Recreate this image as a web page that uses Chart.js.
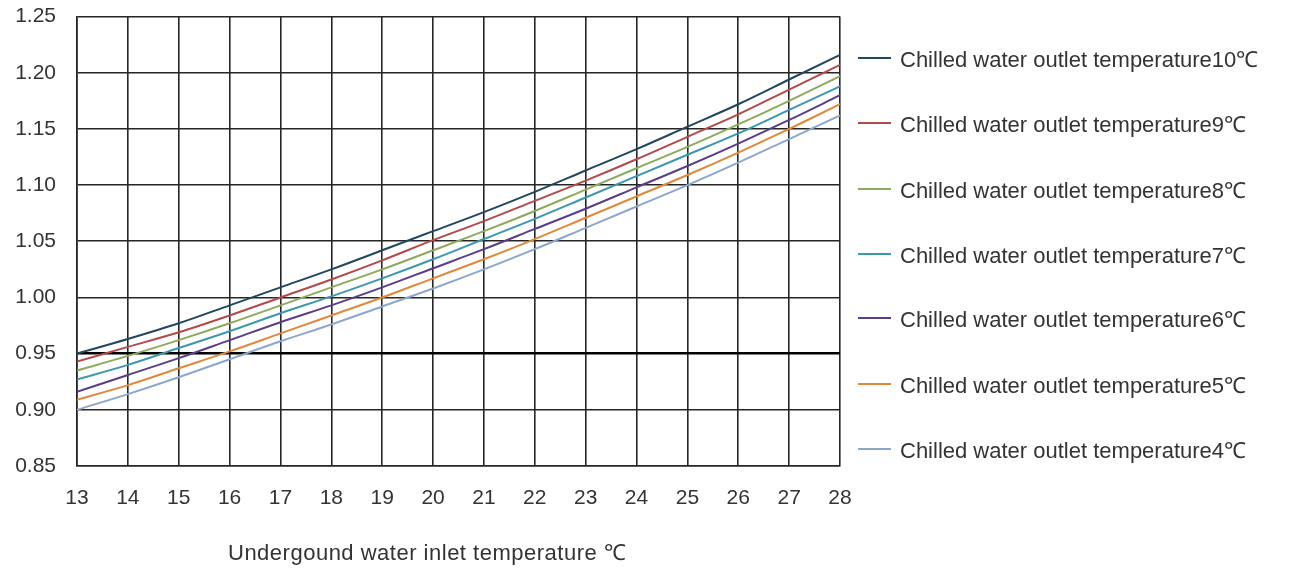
<!DOCTYPE html>
<html>
<head>
<meta charset="utf-8">
<script src="https://cdn.jsdelivr.net/npm/chart.js@4/dist/chart.umd.min.js"></script>
<style>
    body { margin: 0; background: #fff; }
    #wrap { position: relative; width: 1291px; height: 569px; overflow: hidden; }
    #chart { position: absolute; left: 0; top: -17px; }
    .legend-item { position: absolute; left: 858px; height: 26px; display: flex; align-items: center; font-family: 'Liberation Sans', Arial, sans-serif; font-size: 22px; color: #333; white-space: nowrap; }
    .legend-line { display: inline-block; width: 33px; height: 2px; margin-right: 9px; }
    #xTitle { position: absolute; left: 228px; top: 536px; font-family: 'Liberation Sans', Arial, sans-serif; font-size: 22px; letter-spacing: 0.5px; color: #333; white-space: nowrap; }
</style>
</head>
<body>
<div id="wrap">
    <canvas id="chart" width="1291" height="586"></canvas>
    <div id="legend"></div>
    <div id="xTitle">Undergound water inlet temperature ℃</div>
</div>
<script>
var inletTemps = [13, 14, 15, 16, 17, 18, 19, 20, 21, 22, 23, 24, 25, 26, 27, 28];

var outlet10 = [0.950, 0.963, 0.977, 0.993, 1.009, 1.025, 1.042, 1.059, 1.076, 1.094, 1.113, 1.132, 1.152, 1.172, 1.194, 1.216];
var outlet9 = [0.943, 0.956, 0.969, 0.984, 1.000, 1.016, 1.033, 1.051, 1.068, 1.086, 1.104, 1.123, 1.143, 1.163, 1.185, 1.207];
var outlet8 = [0.935, 0.948, 0.962, 0.977, 0.993, 1.009, 1.025, 1.042, 1.059, 1.077, 1.096, 1.115, 1.134, 1.154, 1.175, 1.197];
var outlet7 = [0.927, 0.940, 0.955, 0.970, 0.986, 1.001, 1.017, 1.034, 1.052, 1.070, 1.089, 1.108, 1.127, 1.146, 1.167, 1.188];
var outlet6 = [0.916, 0.931, 0.946, 0.962, 0.978, 0.993, 1.009, 1.026, 1.043, 1.061, 1.079, 1.098, 1.117, 1.137, 1.158, 1.180];
var outlet5 = [0.909, 0.922, 0.937, 0.952, 0.968, 0.984, 1.000, 1.017, 1.034, 1.052, 1.071, 1.090, 1.109, 1.129, 1.150, 1.172];
var outlet4 = [0.900, 0.914, 0.929, 0.945, 0.961, 0.976, 0.992, 1.008, 1.025, 1.043, 1.062, 1.081, 1.100, 1.120, 1.141, 1.162];

var seriesLabels = [
    'Chilled water outlet temperature10℃',
    'Chilled water outlet temperature9℃',
    'Chilled water outlet temperature8℃',
    'Chilled water outlet temperature7℃',
    'Chilled water outlet temperature6℃',
    'Chilled water outlet temperature5℃',
    'Chilled water outlet temperature4℃'
];
var seriesValues = [outlet10, outlet9, outlet8, outlet7, outlet6, outlet5, outlet4];
var colors = ['#22475f', '#b24a4c', '#8eaa5c', '#3c98ab', '#5a3f88', '#e0883c', '#8ea6cc'];
var legendTops = [45, 110, 176, 241, 305, 371, 436];

var yMin = 0.85, yMax = 1.25, yStep = 0.05;
var limitLine = 0.95;

function toPoints(values) {
    var pts = [];
    for (var i = 0; i < inletTemps.length; i++) {
        pts.push({ x: inletTemps[i], y: values[i] });
    }
    return pts;
}

var datasets = [];
for (var i = 0; i < seriesLabels.length; i++) {
    datasets.push({
        label: seriesLabels[i],
        data: toPoints(seriesValues[i]),
        borderColor: colors[i],
        borderWidth: 2,
        pointRadius: 0,
        fill: false,
        cubicInterpolationMode: 'monotone'
    });
}

var fontFamily = "'Liberation Sans', Arial, sans-serif";

new Chart(document.getElementById('chart').getContext('2d'), {
    type: 'line',
    data: { datasets: datasets },
    options: {
        responsive: false,
        animation: false,
        layout: {
            padding: { top: 1, right: 451, left: 0, bottom: 0 }
        },
        plugins: {
            legend: { display: false },
            tooltip: { enabled: false }
        },
        scales: {
            x: {
                type: 'linear',
                min: 13,
                max: 28,
                afterFit: function (scale) { scale.height = 103; },
                grid: {
                    color: '#262626',
                    lineWidth: 1.6,
                    drawTicks: false
                },
                border: { color: '#262626', width: 1.6 },
                ticks: {
                    stepSize: 1,
                    padding: 20,
                    color: '#333',
                    font: { family: fontFamily, size: 21 }
                }
            },
            y: {
                min: yMin,
                max: yMax,
                afterFit: function (scale) { scale.width = 77; },
                grid: {
                    color: function (ctx) {
                        return Math.abs(ctx.tick.value - limitLine) < 1e-6 ? '#000' : '#262626';
                    },
                    lineWidth: function (ctx) {
                        return Math.abs(ctx.tick.value - limitLine) < 1e-6 ? 2.5 : 1.6;
                    },
                    drawTicks: false
                },
                border: { color: '#262626', width: 1.6 },
                ticks: {
                    stepSize: yStep,
                    padding: 21,
                    color: '#333',
                    font: { family: fontFamily, size: 21 },
                    callback: function (value) {
                        return value.toFixed(2);
                    }
                }
            }
        }
    }
});

var legendHtml = '';
for (var j = 0; j < seriesLabels.length; j++) {
    legendHtml += '<div class="legend-item" style="top:' + legendTops[j] + 'px">' +
        '<span class="legend-line" style="background:' + colors[j] + '"></span>' +
        '<span>' + seriesLabels[j] + '</span>' +
        '</div>';
}
document.getElementById('legend').innerHTML = legendHtml;
</script>
</body>
</html>
